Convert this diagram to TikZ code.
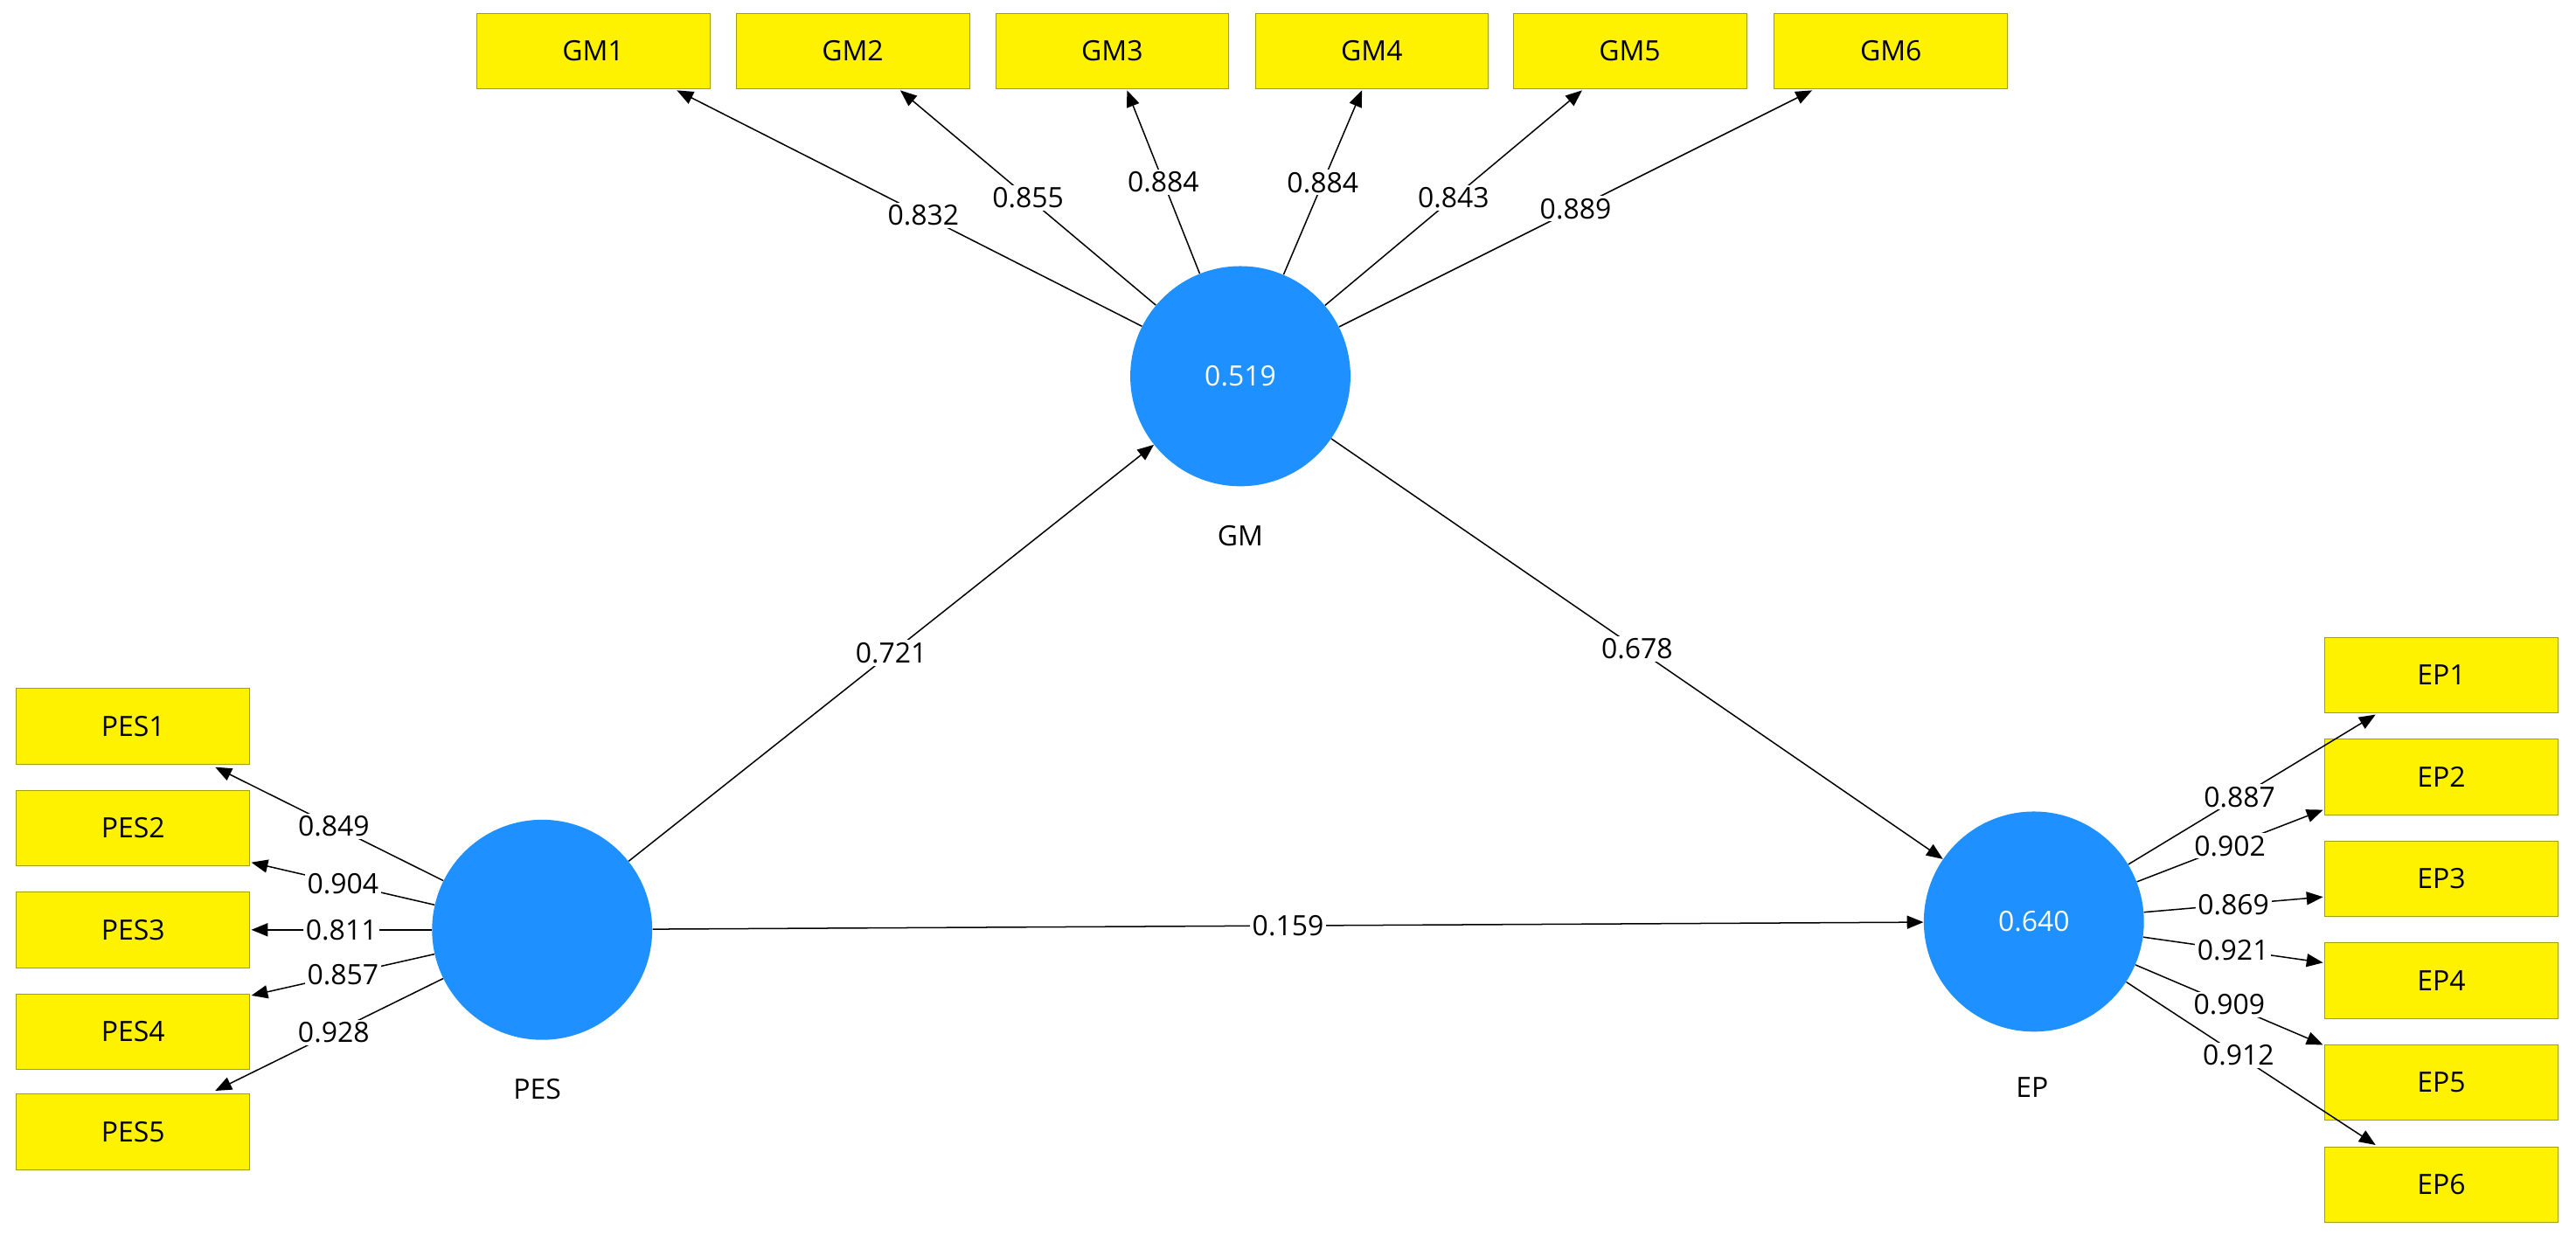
\documentclass[tikz,border=0pt]{standalone}
\usepackage{fontspec}
\setmainfont{Open Sans}
\usetikzlibrary{arrows.meta}
\definecolor{lvblue}{HTML}{1E90FF}
\definecolor{boxborder}{HTML}{A0A000}
\begin{document}
\begin{tikzpicture}[x=1pt,y=-1pt,
  ind/.style={draw=boxborder, fill=yellow, minimum width=142pt, minimum height=46pt, inner sep=0pt, font=\fontsize{17}{20}\selectfont},
  lv/.style={circle, fill=lvblue, minimum size=134pt, inner sep=0pt, text=white, font=\fontsize{17}{20}\selectfont},
  arr/.style={-{Triangle[length=10pt,width=8pt]}, line width=0.8pt},
  lab/.style={fill=white, inner sep=1.5pt, font=\fontsize{17}{20}\selectfont, midway},
  lvcap/.style={font=\fontsize{17}{20}\selectfont}]
\useasboundingbox (0,0) rectangle (1568,756);
\node[lv] (GM) at (755,229) {0.519};
\node[lv] (PES) at (330,566) {};
\node[lv] (EP) at (1238,561) {0.640};
\node[lvcap] (GMl) at (755,326) {GM};
\node[lvcap] (PESl) at (327,663) {PES};
\node[lvcap] (EPl) at (1237,662) {EP};
\foreach \n/\x in {1/361,2/519,3/677,4/835,5/992,6/1151}{\node[ind] (GM\n) at (\x,31) {GM\n};}
\foreach \n/\y in {1/442,2/504,3/566,4/628,5/689}{\node[ind] (PES\n) at (81,\y) {PES\n};}
\foreach \n/\y in {1/411,2/473,3/535,4/597,5/659,6/721}{\node[ind] (EP\n) at (1486,\y) {EP\n};}
% GM tips
\coordinate (g1) at (412,55); \coordinate (g2) at (548,55); \coordinate (g3) at (686,55);
\coordinate (g4) at (829,55); \coordinate (g5) at (963,55); \coordinate (g6) at (1103,55);
\draw[arr] (GM) -- (g1) node[lab,pos=0.47] {0.832};
\draw[arr] (GM) -- (g2) node[lab,pos=0.5] {0.855};
\draw[arr] (GM) -- (g3) node[lab,pos=0.5] {0.884};
\draw[arr] (GM) -- (g4) node[lab,pos=0.5] {0.884};
\draw[arr] (GM) -- (g5) node[lab,pos=0.5] {0.843};
\draw[arr] (GM) -- (g6) node[lab,pos=0.5] {0.889};
% PES tips
\coordinate (p1) at (131,467); \coordinate (p2) at (153,525); \coordinate (p3) at (153,566);
\coordinate (p4) at (153,606); \coordinate (p5) at (131,664);
\draw[arr] (PES) -- (p1) node[lab,pos=0.48] {0.849};
\draw[arr] (PES) -- (p2) node[lab] {0.904};
\draw[arr] (PES) -- (p3) node[lab] {0.811};
\draw[arr] (PES) -- (p4) node[lab] {0.857};
\draw[arr] (PES) -- (p5) node[lab,pos=0.48] {0.928};
% EP tips
\coordinate (e1) at (1446,435); \coordinate (e2) at (1414,493); \coordinate (e3) at (1414,546);
\coordinate (e4) at (1414,586); \coordinate (e5) at (1414,636); \coordinate (e6) at (1446,697);
\draw[arr] (EP) -- (e1) node[lab,pos=0.45] {0.887};
\draw[arr] (EP) -- (e2) node[lab] {0.902};
\draw[arr] (EP) -- (e3) node[lab] {0.869};
\draw[arr] (EP) -- (e4) node[lab] {0.921};
\draw[arr] (EP) -- (e5) node[lab] {0.909};
\draw[arr] (EP) -- (e6) node[lab,pos=0.45] {0.912};
% structural
\draw[arr] (PES) -- (GM) node[lab] {0.721};
\draw[arr] (GM) -- (EP) node[lab] {0.678};
\draw[arr] (PES) -- (EP) node[lab] {0.159};
\end{tikzpicture}
\end{document}
